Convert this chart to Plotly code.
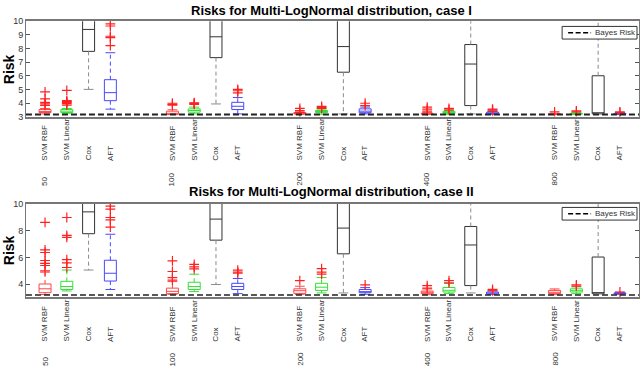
import plotly.graph_objects as go

sizes = [50, 100, 200, 400, 800]
methods = ["SVM RBF", "SVM Linear", "Cox", "AFT"]
bayes_risk = [3.15, 3.2]

# case I, every list is [method][sample size]
c1_lower = [[3.2, 3.15, 3.17, 3.16, 3.16], [3.25, 3.2, 3.18, 3.17, 3.16],
            [5.0, 3.93, 3.2, 3.2, 3.2], [3.55, 3.2, 3.2, 3.18, 3.17]]
c1_q1 = [[3.3, 3.17, 3.2, 3.18, 3.17], [3.3, 3.33, 3.3, 3.24, 3.19],
         [7.79, 7.33, 6.26, 3.81, 3.21], [4.17, 3.52, 3.29, 3.21, 3.18]]
c1_med = [[3.38, 3.22, 3.24, 3.2, 3.18], [3.4, 3.45, 3.38, 3.3, 3.21],
          [9.4, 8.86, 8.14, 6.86, 3.26], [4.76, 3.76, 3.4, 3.26, 3.2]]
c1_q3 = [[3.52, 3.4, 3.3, 3.25, 3.2], [3.52, 3.57, 3.45, 3.38, 3.24],
         [11.5, 11.0, 10.8, 8.29, 6.0], [5.71, 4.05, 3.57, 3.33, 3.24]]
c1_upper = [[3.6, 3.5, 3.36, 3.3, 3.24], [3.6, 3.7, 3.55, 3.45, 3.28],
            [14.0, 13.0, 12.0, 12.0, 10.5], [7.69, 4.4, 3.7, 3.38, 3.27]]
c1_out = [
    [[4.81, 4.3, 4.05, 3.93, 3.82], [3.98, 3.9, 3.85], [3.6, 3.45, 3.3], [3.4, 3.55, 3.7], [3.35]],
    [[4.93, 4.17, 4.1, 4.05, 3.95, 3.85], [4.02, 3.97, 3.9], [3.6, 3.68, 3.75], [3.5, 3.6], [3.35, 3.42]],
    [[], [], [], [], []],
    [[9.8, 9.65, 8.9, 8.8, 8.21], [5.0, 4.9, 4.75], [3.81, 3.98], [3.42, 3.5, 3.55], [3.3, 3.35]],
]

# case II
c2_lower = [[3.23, 3.25, 3.25, 3.22, 3.22], [3.5, 3.45, 3.35, 3.3, 3.3],
            [5.06, 3.98, 3.35, 3.35, 3.28], [3.61, 3.3, 3.25, 3.25, 3.25]]
c2_q1 = [[3.37, 3.3, 3.32, 3.3, 3.3], [3.61, 3.61, 3.54, 3.42, 3.42],
         [7.77, 7.29, 6.27, 3.9, 3.3], [4.24, 3.61, 3.37, 3.27, 3.3]]
c2_med = [[3.66, 3.47, 3.52, 3.4, 3.4], [3.83, 3.83, 3.78, 3.55, 3.52],
          [9.4, 8.86, 8.19, 6.93, 3.31], [4.82, 3.83, 3.45, 3.35, 3.32]]
c2_q3 = [[4.02, 3.71, 3.66, 3.49, 3.54], [4.22, 4.15, 4.07, 3.76, 3.66],
         [11.5, 11.0, 10.8, 8.31, 6.03], [5.79, 4.07, 3.61, 3.42, 3.35]]
c2_upper = [[4.9, 4.2, 3.85, 3.65, 3.65], [5.06, 4.75, 4.5, 4.05, 3.8],
            [14.0, 13.0, 12.0, 12.0, 10.5], [7.73, 4.43, 3.75, 3.55, 3.4]]
c2_out = [
    [[8.62, 6.56, 6.37, 5.77, 5.55, 5.4, 5.0], [5.75, 4.95, 4.5, 4.31], [4.27], [3.9, 3.71], []],
    [[8.98, 7.65, 7.5, 5.84, 5.6, 5.25], [5.48, 5.3, 5.15], [5.16, 4.9, 4.75], [4.27, 4.1], [3.95, 3.86]],
    [[], [], [], [], []],
    [[9.83, 9.6, 8.98, 8.8, 8.26], [5.06, 4.9, 4.82], [3.95], [3.61, 3.5], [3.42]],
]

box_colors = ["#ff4545", "#33e033", "#333333", "#4848ff"]
whisker_colors = ["#ff4545", "#33e033", "#8a8a8a", "#4848ff"]
FONT = "Liberation Sans, Arial, sans-serif"
GROUP_STEP = 5.85
W, H = 640, 373

def pos(g, m):
    return g * GROUP_STEP + m

def py(pix):
    # pixel row from the top -> paper fraction
    return 1 - pix / H

fig = go.Figure()

panels = [
    dict(xa="x", ya="y", lo=c1_lower, q1=c1_q1, med=c1_med, q3=c1_q3, up=c1_upper, out=c1_out),
    dict(xa="x2", ya="y2", lo=c2_lower, q1=c2_q1, med=c2_med, q3=c2_q3, up=c2_upper, out=c2_out),
]

for p, pan in enumerate(panels):
    for m, meth in enumerate(methods):
        xs = [pos(g, m) for g in range(len(sizes))]
        # dashed whiskers
        wx, wy = [], []
        for g in range(len(sizes)):
            wx += [xs[g], xs[g], None, xs[g], xs[g], None]
            wy += [pan["q3"][m][g], pan["up"][m][g], None, pan["q1"][m][g], pan["lo"][m][g], None]
        fig.add_trace(go.Scatter(x=wx, y=wy, mode="lines", xaxis=pan["xa"], yaxis=pan["ya"],
                                 line=dict(color=whisker_colors[m], width=1, dash="4px,3px"),
                                 showlegend=False, hoverinfo="skip"))
        # whisker caps
        fig.add_trace(go.Scatter(x=xs + xs, y=pan["lo"][m] + pan["up"][m], mode="markers",
                                 xaxis=pan["xa"], yaxis=pan["ya"],
                                 marker=dict(symbol="line-ew", size=7,
                                             line=dict(color=whisker_colors[m], width=1)),
                                 showlegend=False, hoverinfo="skip"))
        # boxes
        fig.add_trace(go.Box(x=xs, q1=pan["q1"][m], median=pan["med"][m], q3=pan["q3"][m],
                             lowerfence=pan["q1"][m], upperfence=pan["q3"][m],
                             orientation="v", width=0.55, whiskerwidth=0,
                             xaxis=pan["xa"], yaxis=pan["ya"],
                             line=dict(color=box_colors[m], width=1),
                             fillcolor="rgba(0,0,0,0)", boxpoints=False,
                             showlegend=False, name=meth))
        # outliers
        ox, oy = [], []
        for g in range(len(sizes)):
            ox += [xs[g]] * len(pan["out"][m][g])
            oy += pan["out"][m][g]
        if ox:
            fig.add_trace(go.Scatter(x=ox, y=oy, mode="markers", xaxis=pan["xa"], yaxis=pan["ya"],
                                     marker=dict(symbol="cross-thin", size=7,
                                                 line=dict(color="#ff2020", width=1.2)),
                                     showlegend=False, hoverinfo="skip"))
    # bayes risk line
    fig.add_shape(type="line", xref=pan["xa"] + " domain", x0=0, x1=1,
                  yref=pan["ya"], y0=bayes_risk[p], y1=bayes_risk[p],
                  line=dict(color="#222222", width=2 if p == 0 else 1.5, dash="6px,3px"))

# legend boxes ("Bayes Risk") drawn by hand, top right of each panel
leg_top = [22, 208]
for p in range(2):
    t = leg_top[p]
    fig.add_shape(type="rect", xref="paper", yref="paper",
                  x0=563 / W, x1=638 / W, y0=py(t + 13), y1=py(t),
                  fillcolor="white", line=dict(color="#333", width=1), layer="above")
    fig.add_shape(type="line", xref="paper", yref="paper",
                  x0=569 / W, x1=592 / W, y0=py(t + 6.5), y1=py(t + 6.5),
                  line=dict(color="black", width=1.5, dash="5px,2.5px"), layer="above")
    fig.add_annotation(x=594 / W, y=py(t + 6.5), xref="paper", yref="paper",
                       text="Bayes Risk", showarrow=False, xanchor="left", yanchor="middle",
                       font=dict(family=FONT, size=8, color="#333"))

# method and sample size labels under each panel (rotated, bottom aligned)
label_y = [py(162), py(348)]
size_y = [py(188), py(373)]
for p, pan in enumerate(panels):
    for g, n in enumerate(sizes):
        for m, meth in enumerate(methods):
            fig.add_annotation(x=pos(g, m), y=label_y[p], xref=pan["xa"], yref="paper",
                               text=meth, textangle=-90, showarrow=False, width=48, align="left",
                               xanchor="center", yanchor="bottom",
                               font=dict(family=FONT, size=8, color="#333"))
        fig.add_annotation(x=pos(g, 0), y=size_y[p], xref=pan["xa"], yref="paper",
                           text=str(n), textangle=-90, showarrow=False, width=16, align="left",
                           xanchor="center", yanchor="bottom",
                           font=dict(family=FONT, size=8, color="#333"))

titles = ["Risks for Multi-LogNormal distribution, case I",
          "Risks for Multi-LogNormal distribution, case II"]
title_y = [py(5.5), py(192)]
risk_y = [py(66), py(252)]
for p in range(2):
    fig.add_annotation(x=332.5 / W, y=title_y[p], xref="paper", yref="paper",
                       text="<b>" + titles[p] + "</b>", showarrow=False,
                       xanchor="center", yanchor="middle",
                       font=dict(family=FONT, size=13, color="black"))
    fig.add_annotation(x=9 / W, y=risk_y[p], xref="paper", yref="paper",
                       text="<b>Risk</b>", textangle=-90, showarrow=False,
                       xanchor="center", yanchor="middle",
                       font=dict(family=FONT, size=14, color="black"))

xrange = [-0.876, 4 * GROUP_STEP + 3 + 0.876]
xax = dict(range=xrange, showticklabels=False, ticks="", showgrid=False, zeroline=False,
           showline=True, linecolor="#777", linewidth=1.5, mirror=True)
yax = dict(showgrid=False, zeroline=False, showline=True, linecolor="#777", linewidth=1,
           mirror="ticks", ticks="inside", ticklen=4, tickcolor="#555",
           tickfont=dict(family=FONT, size=9, color="#333"))

fig.update_layout(
    width=W, height=H,
    margin=dict(l=0, r=0, t=0, b=0),
    paper_bgcolor="white", plot_bgcolor="white",
    showlegend=False,
    xaxis=dict(domain=[26 / W, 1.0], anchor="y", **xax),
    xaxis2=dict(domain=[26 / W, 1.0], anchor="y2", **xax),
    yaxis=dict(domain=[py(114.7), py(16.7)], anchor="x", range=[3, 10], dtick=1, **yax),
    yaxis2=dict(domain=[py(300.3), py(204.3)], anchor="x2", range=[3.03, 10],
                tickvals=[4, 6, 8, 10], **yax),
)

fig.write_html("out.html", config={"displayModeBar": False},
               post_script="document.body.style.margin='0px';")
